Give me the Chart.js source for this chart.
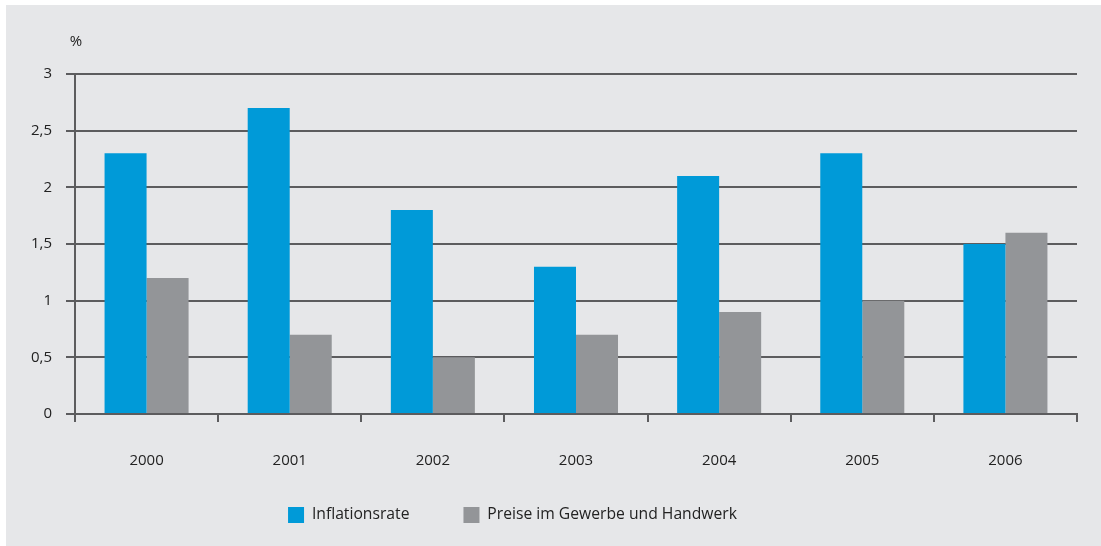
<!DOCTYPE html>
<html>
<head>
<meta charset="utf-8">
<script src="https://cdn.jsdelivr.net/npm/chart.js@4/dist/chart.umd.min.js"></script>
<style>
  body { margin: 0; background: #fff; }
  .panel {
    position: absolute;
    left: 6px;
    top: 5px;
    width: 1095px;
    height: 541px;
    background: #e6e7e9;
  }
</style>
</head>
<body>
<div class="panel"><canvas id="chart-1"></canvas></div>
<script>
// chart data
var years = ["2000", "2001", "2002", "2003", "2004", "2005", "2006"];
var inflation = [2.3, 2.7, 1.8, 1.3, 2.1, 2.3, 1.5];
var gewerbe = [1.2, 0.7, 0.5, 0.7, 0.9, 1.0, 1.6];
var yTicks = [0, 0.5, 1, 1.5, 2, 2.5, 3];
var yTickLabels = ["0", "0,5", "1", "1,5", "2", "2,5", "3"];

var lineColor = "#5c5c5e";
var textColor = "#222222";
var font = { family: "'Open Sans', sans-serif", size: 15 };

// unit label above the y axis, legend moved into place
var unitLabel = {
    id: 'unitLabel',
    afterLayout(chart) {
        let lg = chart.legend;
        let h = lg.bottom - lg.top;
        lg.left -= 29;
        lg.right -= 29;
        lg.top = 448;
        lg.bottom = 448 + h;
    },
    afterDraw(chart) {
        let ctx = chart.ctx;
        ctx.save();
        ctx.font = "15px 'Open Sans', sans-serif";
        ctx.fillStyle = textColor;
        ctx.textAlign = 'center';
        ctx.textBaseline = 'middle';
        ctx.fillText("%", chart.chartArea.left + 1, 37);
        ctx.restore();
    }
};

var ctx_1 = document.getElementById('chart-1');
var myChart = new Chart(ctx_1, {
    type: 'bar',
    data: {
        labels: years,
        datasets: [{
            label: "Inflationsrate",
            data: inflation,
            backgroundColor: "#009ad8",
            borderWidth: 0
        }, {
            label: "Preise im Gewerbe und Handwerk",
            data: gewerbe,
            backgroundColor: "#939598",
            borderWidth: 0
        }]
    },
    options: {
        responsive: true,
        maintainAspectRatio: false,
        animation: false,
        barPercentage: 1,
        categoryPercentage: 0.587,
        layout: {
            padding: { top: 69, right: 24, left: 0, bottom: 0 }
        },
        plugins: {
            tooltip: { enabled: false },
            legend: {
                position: 'bottom',
                maxHeight: 72,
                labels: {
                    boxWidth: 16,
                    boxHeight: 16,
                    padding: 54,
                    color: textColor,
                    font: { family: font.family, size: 15.7 }
                }
            }
        },
        scales: {
            x: {
                afterFit(scale) { scale.height = 60; },
                grid: {
                    offset: true,
                    drawOnChartArea: false,
                    tickLength: 8,
                    color: lineColor,
                    lineWidth: 2
                },
                border: { display: true, color: lineColor, width: 2 },
                ticks: { color: textColor, font: font, padding: 30 }
            },
            y: {
                min: 0,
                max: 3,
                afterFit(scale) { scale.width = 69; },
                afterBuildTicks(scale) {
                    scale.ticks = yTicks.map(v => ({ value: v }));
                },
                grid: {
                    tickLength: 9,
                    color: lineColor,
                    lineWidth: 2
                },
                border: { display: true, color: lineColor, width: 2 },
                ticks: {
                    color: textColor,
                    font: font,
                    padding: 14,
                    callback: (value) => yTickLabels[yTicks.indexOf(value)]
                }
            }
        }
    },
    plugins: [unitLabel]
});
</script>
</body>
</html>
